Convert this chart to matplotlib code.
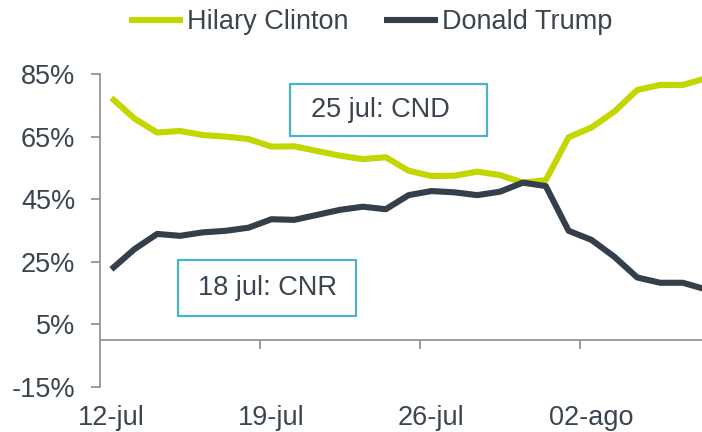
import matplotlib
matplotlib.use("Agg")
import matplotlib.pyplot as plt
from matplotlib.patches import Rectangle
import matplotlib.transforms as mtransforms

plt.rcParams['font.family'] = ['Liberation Sans', 'DejaVu Sans']

dates = ["12-jul", "13-jul", "14-jul", "15-jul", "16-jul", "17-jul", "18-jul",
         "19-jul", "20-jul", "21-jul", "22-jul", "23-jul", "24-jul", "25-jul",
         "26-jul", "27-jul", "28-jul", "29-jul", "30-jul", "31-jul", "01-ago",
         "02-ago", "03-ago", "04-ago", "05-ago", "06-ago", "07-ago"]
clinton = [77.4, 70.8, 66.3, 66.8, 65.5, 65.0, 64.2, 61.8, 61.9, 60.4, 58.9,
           57.8, 58.4, 54.1, 52.4, 52.5, 53.8, 52.7, 50.3, 51.1, 64.8, 67.9,
           73.0, 79.9, 81.5, 81.5, 83.6]
trump = [22.6, 29.0, 33.9, 33.3, 34.4, 34.9, 35.9, 38.6, 38.4, 40.0, 41.6,
         42.6, 41.8, 46.3, 47.6, 47.2, 46.3, 47.4, 50.3, 49.2, 34.9, 32.0,
         26.6, 20.0, 18.3, 18.3, 16.2]
label_dates = ["12-jul", "19-jul", "26-jul", "02-ago"]
yticks = [-15, 5, 25, 45, 65, 85]

GREEN = "#C3D600"
DARK = "#333F4A"
TXT = "#3A4550"
AXC = "#8C8C8C"
BOXC = "#4BB2C8"
FS = 19.5

fig = plt.figure(figsize=(7.02, 4.32), dpi=100)
ax = fig.add_axes([100/702, 1-387/432, 602/702, (387-74)/432])

x = list(range(len(dates)))
ax.plot(x, clinton, color=GREEN, lw=4.4, label="Hilary Clinton", solid_capstyle='butt')
ax.plot(x, trump, color=DARK, lw=4.4, label="Donald Trump", solid_capstyle='butt')

px_per = 22.86
ax.set_xlim(-0.5, -0.5 + 602/px_per)
ax.set_ylim(-15, 85)

ax.spines['top'].set_visible(False)
ax.spines['right'].set_visible(False)
ax.spines['left'].set_color(AXC)
ax.spines['left'].set_linewidth(1.2)
ax.spines['bottom'].set_position(('data', 0))
ax.spines['bottom'].set_color(AXC)
ax.spines['bottom'].set_linewidth(1.2)

ax.set_yticks(yticks)
ax.set_yticklabels([f"{v}%" for v in yticks])
ax.tick_params(axis='y', length=6.7, width=1.2, color=AXC, pad=11, labelsize=FS, labelcolor=TXT)

bounds = [-0.5 + 7*k for k in range(1, 4)]
ax.set_xticks(bounds)
ax.set_xticklabels([])
ax.tick_params(axis='x', length=6.5, width=1.2, color=AXC, direction='out')

trans = mtransforms.blended_transform_factory(ax.transData, fig.transFigure)
for lab in label_dates:
    ax.text(dates.index(lab), 1-425/432, lab, transform=trans, ha='center', va='baseline',
            fontsize=FS, color=TXT, clip_on=False)

# annotation boxes
def box(x0, y0, x1, y1, text, tx=None):
    fw, fh = 702, 432
    r = Rectangle((x0/fw, 1-y1/fh), (x1-x0)/fw, (y1-y0)/fh, transform=fig.transFigure,
                  fill=True, facecolor='white', edgecolor=BOXC, lw=1.6, zorder=5)
    fig.patches.append(r)
    if tx is None:
        fig.text((x0+x1)/2/fw, 1-(y0+y1)/2/fh, text, ha='center', va='center',
                 fontsize=FS, color=TXT, zorder=6)
    else:
        fig.text(tx/fw, 1-(y0+y1)/2/fh, text, ha='left', va='center',
                 fontsize=FS, color=TXT, zorder=6)

box(290, 84, 487, 136, "25 jul: CND", tx=311)
box(178, 260, 356, 316, "18 jul: CNR")

fig.legend(loc='center', bbox_to_anchor=(371/702, 1-22/432), ncol=2, frameon=False,
           fontsize=FS, handlelength=2.0, handletextpad=0.15, columnspacing=1.3,
           labelcolor=TXT)

fig.savefig("out.png", dpi=100)
